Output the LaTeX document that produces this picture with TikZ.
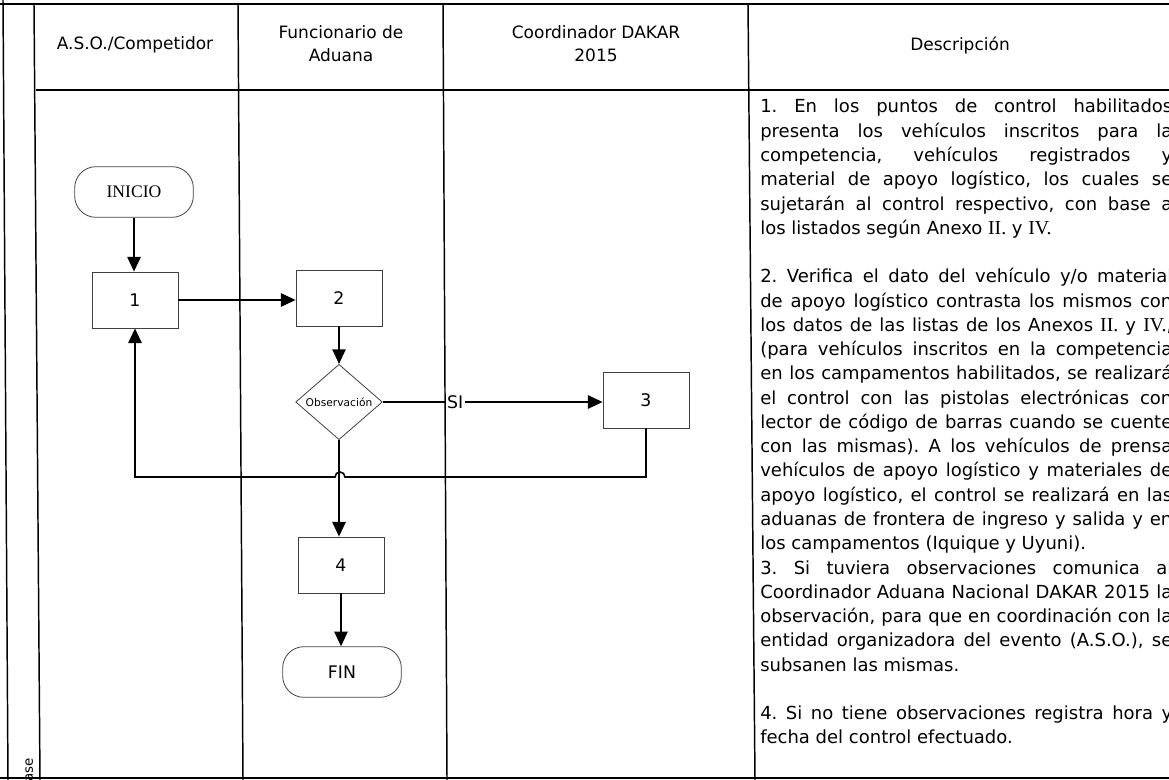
\documentclass[tikz,border=0pt]{standalone}
\usepackage{fontspec}
\setmainfont{DejaVu Sans}
\newfontfamily\serf{Liberation Serif}[Scale=1.1]
\usetikzlibrary{shapes.geometric,arrows.meta}
\newcommand\romn[1]{{\serf #1}}
\newlength\dw \setlength\dw{309pt}
\newcommand\jl[1]{{\spaceskip=0pt\xspaceskip=0pt\frenchspacing\makebox[\dw][s]{#1}}}
\begin{document}
\begin{tikzpicture}[x=0.75pt,y=-0.75pt,
  frame/.style={line width=1.1pt},
  proc/.style={draw=black!75, line width=0.6pt, minimum width=64.5pt, minimum height=42pt, inner sep=0pt, font=\fontsize{13pt}{15pt}\selectfont},
  term/.style={draw=black!75, line width=0.6pt, rounded corners=16pt, minimum width=89pt, minimum height=38pt, inner sep=0pt, font=\fontsize{13pt}{15pt}\selectfont},
  dec/.style={diamond, draw=black!75, line width=0.6pt, minimum width=65pt, minimum height=51pt, inner sep=0pt, font=\fontsize{8pt}{9pt}\selectfont},
  arr/.style={line width=1.2pt, -{Triangle[length=11pt,width=10pt]}},
  hdr/.style={align=center, font=\fontsize{12.75pt}{17.25pt}\selectfont}
]
\useasboundingbox (0,0) rectangle (1169,780);
\clip (0,0) rectangle (1169,780);
% frame
\draw[frame] (0,4) -- (1169,4);
\draw[frame] (0,778) -- (1169,778);
\draw[frame] (36,90) -- (1169,90);
\draw[frame] (3,0) -- (8,780);
\draw[frame] (34,4) -- (40,780);
\draw[frame] (238,4) -- (243,780);
\draw[frame] (443,4) -- (447,780);
\draw[frame] (748,4) -- (755,780);
% headers
\node[hdr] (h1) at (135,45) {A.S.O./Competidor};
\node[hdr] (h2) at (341,44) {Funcionario de\\Aduana};
\node[hdr] (h3) at (596,44) {Coordinador DAKAR\\2015};
\node[hdr] (h4) at (960,45) {Descripción};
\node[rotate=90, font=\fontsize{10pt}{11pt}\selectfont] (fase) at (28,773) {Fase};
% flow nodes
\node[term, font=\serf\fontsize{12pt}{14pt}\selectfont] (ini) at (134,192) {INICIO};
\node[proc] (b1) at (135,300) {1};
\node[proc] (b2) at (339,298) {2};
\node[dec] (dia) at (339,402) {Observación};
\node[proc] (b3) at (646,400) {3};
\node[proc] (b4) at (341,565) {4};
\node[term] (fin) at (342,672) {FIN};
% connectors
\draw[arr] (ini.south) -- (ini.south |- b1.north);
\draw[arr] (b1.east) -- (b1.east -| b2.west);
\draw[arr] (b2.south) -- (b2.south |- dia.north);
\draw[arr] (dia.east) -- node[pos=0.33, fill=white, inner sep=1pt, font=\fontsize{13pt}{15pt}\selectfont] (si) {SI} (dia.east -| b3.west);
\draw[arr] (dia.south) -- (dia.south |- b4.north);
\draw[arr] (b4.south) -- (b4.south |- fin.north);
\coordinate (lr) at (646,477);
\coordinate (ll) at (135,477);
\draw[arr] (b3.south) -- (lr) -- (345,477) arc (0:-180:5) -- (ll) -- (b1.south);
% description
\node[anchor=north west, inner sep=0pt, align=left, text width=\dw, font=\fontsize{13.5pt}{18.2pt}\selectfont] (desc) at (760,99) {%
\spaceskip=0pt\xspaceskip=0pt\frenchspacing
\jl{1. En los puntos de control habilitados}\\
\jl{presenta los vehículos inscritos para la}\\
\jl{competencia, vehículos registrados y}\\
\jl{material de apoyo logístico, los cuales se}\\
\jl{sujetarán al control respectivo, con base a}\\
los listados según Anexo \romn{II.} y \romn{IV.}\\[18.2pt]
\jl{2. Verifica el dato del vehículo y/o material}\\
\jl{de apoyo logístico contrasta los mismos con}\\
\jl{los datos de las listas de los Anexos \romn{II.} y \romn{IV.},}\\
\jl{(para vehículos inscritos en la competencia}\\
\jl{en los campamentos habilitados, se realizará}\\
\jl{el control con las pistolas electrónicas con}\\
\jl{lector de código de barras cuando se cuente}\\
\jl{con las mismas). A los vehículos de prensa}\\
\jl{vehículos de apoyo logístico y materiales de}\\
\jl{apoyo logístico, el control se realizará en las}\\
\jl{aduanas de frontera de ingreso y salida y en}\\
los campamentos (Iquique y Uyuni).\\
\jl{3. Si tuviera observaciones comunica al}\\
\jl{Coordinador Aduana Nacional DAKAR 2015 la}\\
\jl{observación, para que en coordinación con la}\\
\jl{entidad organizadora del evento (A.S.O.), se}\\
subsanen las mismas.\\[18.2pt]
\jl{4. Si no tiene observaciones registra hora y}\\
fecha del control efectuado.};
\end{tikzpicture}
\end{document}
